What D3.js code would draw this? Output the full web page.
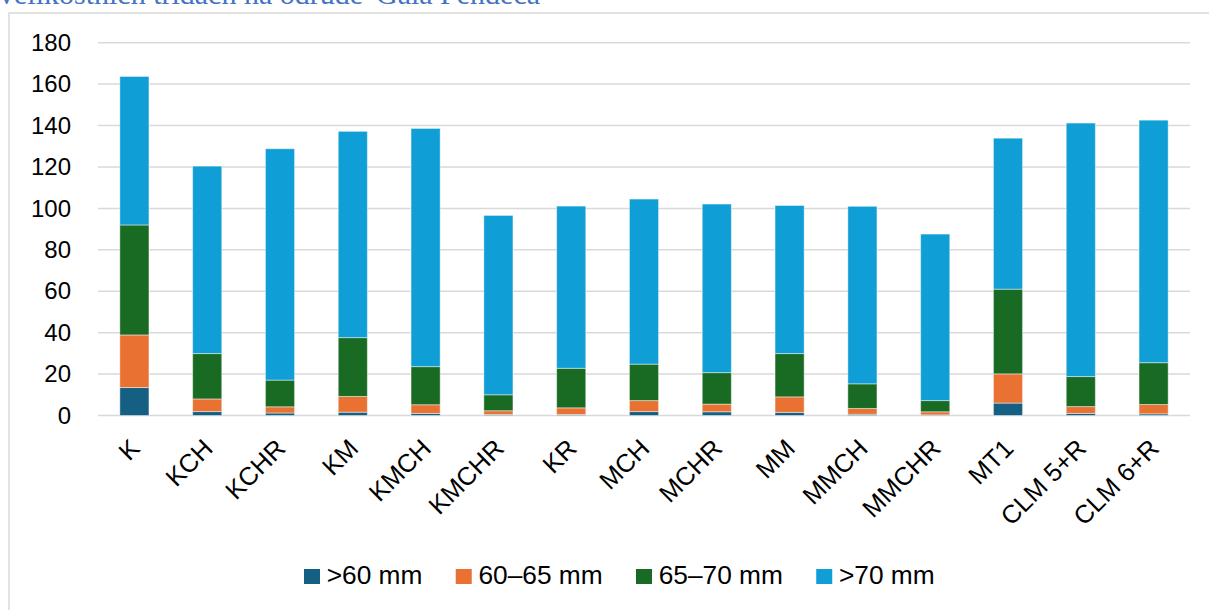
<!DOCTYPE html>
<html><head><meta charset="utf-8">
<script src="https://cdn.jsdelivr.net/npm/d3@7"></script>
<style>
html,body{margin:0;padding:0;background:#fff;overflow:hidden;}
text{font-family:"Liberation Sans",Arial,sans-serif;}
</style></head>
<body>
<svg id="chart" width="1209" height="610"></svg>
<script>
const categories = ["K","KCH","KCHR","KM","KMCH","KMCHR","KR","MCH","MCHR","MM","MMCH","MMCHR","MT1","CLM 5+R","CLM 6+R"];
const seriesNames = [">60 mm","60–65 mm","65–70 mm",">70 mm"];
const s60   = [13.5, 1.9, 1.2, 1.6, 1.0, 0.5, 0.5, 1.9, 1.8, 1.5, 0.6, 0.3, 6.0, 1.0, 0.8];
const s6065 = [25.4, 6.1, 3.0, 7.6, 4.2, 1.8, 3.2, 5.3, 3.7, 7.5, 2.8, 1.5, 14.1, 3.3, 4.5];
const s6570 = [53.1, 21.9, 12.9, 28.4, 18.4, 7.7, 19.1, 17.6, 15.2, 20.9, 11.9, 5.4, 40.9, 14.5, 20.2];
const s70   = [71.7, 90.5, 111.7, 99.6, 115.0, 86.6, 78.3, 79.7, 81.4, 71.5, 85.7, 80.4, 72.9, 122.4, 117.1];
const yTicks = [0,20,40,60,80,100,120,140,160,180];
const colors = ["#156082","#E97132","#196B24","#0F9ED5"];
const titleText = "velikostních třídách na odrůdě 'Gala Pendeca'";

const svg = d3.select("#chart");

// partial title at top (cut off by the page edge, as in the reference)
svg.append("text").attr("x",-1).attr("y",4)
  .style("font-family","'Liberation Serif','Times New Roman',serif")
  .style("font-size","30px").attr("fill","#4472C4").text(titleText);

// chart border
svg.append("rect").attr("x",9).attr("y",13).attr("width",1230).attr("height",620)
  .attr("fill","none").attr("stroke","#d9d9d9").attr("stroke-width",1.5);

const x = d3.scaleBand().domain(categories).range([98,1190]).paddingInner(0.6).paddingOuter(0.3);
const y = d3.scaleLinear().domain([0,180]).range([415.5,42.7]);

// gridlines
svg.append("g").selectAll("line").data(yTicks).join("line")
  .attr("x1",98).attr("x2",1190)
  .attr("y1",d=>y(d)).attr("y2",d=>y(d))
  .attr("stroke","#d9d9d9").attr("stroke-width",1.5);

// y axis labels
const yAxis = d3.axisLeft(y).tickValues(yTicks).tickSize(0).tickPadding(0);
const gy = svg.append("g").attr("transform","translate(71,0)").call(yAxis);
gy.select(".domain").remove();
gy.selectAll("text").style("font-size","24px").attr("fill","#000")
  .style("font-family","'Liberation Sans',Arial,sans-serif");

// stacked data
const rows = categories.map((c,i)=>({cat:c, a:s60[i], b:s6065[i], c2:s6570[i], d:s70[i]}));
const stack = d3.stack().keys(["a","b","c2","d"]);
const layers = stack(rows);

svg.append("g").selectAll("g").data(layers).join("g")
  .attr("fill",(d,i)=>colors[i])
  .selectAll("rect").data(d=>d).join("rect")
  .attr("x",d=>x(d.data.cat))
  .attr("width",x.bandwidth())
  .attr("y",d=>y(d[1]))
  .attr("height",d=>y(d[0])-y(d[1]))
  .attr("stroke","rgba(255,255,255,0.45)").attr("stroke-width",1);

// x labels
const xAxis = d3.axisBottom(x).tickSize(0).tickPadding(0);
const gx = svg.append("g").call(xAxis);
gx.select(".domain").remove();
gx.selectAll(".tick").attr("transform",d=>`translate(${x(d)+x.bandwidth()/2+7},450)`);
gx.selectAll("text").attr("y",0).attr("dy",0).attr("x",0)
  .attr("transform","rotate(-45)").attr("text-anchor","end")
  .style("font-size","25.5px").attr("fill","#000")
  .style("font-family","'Liberation Sans',Arial,sans-serif");

// legend
const leg = svg.append("g");
let lx = 304;
seriesNames.forEach((n,i)=>{
  leg.append("rect").attr("x",lx).attr("y",569).attr("width",16).attr("height",15).attr("fill",colors[i]);
  const t = leg.append("text").attr("x",lx+22.7).attr("y",584.3)
    .style("font-size","26.3px").attr("fill","#000").text(n);
  const w = t.node().getComputedTextLength();
  lx = lx + 22.7 + w + 33.3;
});
</script>
</body></html>
